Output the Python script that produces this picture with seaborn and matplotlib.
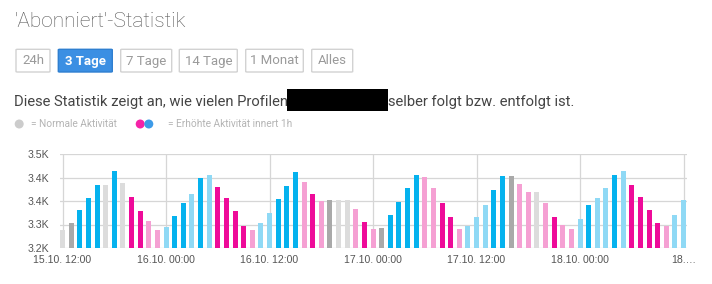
import matplotlib
matplotlib.use("Agg")
import matplotlib.pyplot as plt
import matplotlib.patches as mpatches
import seaborn as sns
import pandas as pd

# ---- data ----
values = [3256, 3279, 3321, 3360, 3401, 3401, 3446, 3407, 3363, 3319, 3285, 3257,
          3266, 3303, 3343, 3373, 3422, 3433, 3395, 3358, 3319, 3269, 3257, 3281,
          3312, 3355, 3399, 3443, 3411, 3373, 3351, 3354, 3354, 3354, 3324, 3282,
          3261, 3263, 3305, 3348, 3392, 3434, 3426, 3390, 3343, 3299, 3261, 3269,
          3299, 3336, 3386, 3430, 3431, 3404, 3379, 3378, 3343, 3299, 3272, 3261,
          3291, 3337, 3359, 3390, 3434, 3446, 3401, 3363, 3322, 3280, 3270, 3305,
          3352]
kinds = ["L", "G", "B", "B", "B", "L", "B", "L", "M", "M", "P", "P",
         "LB", "B", "B", "LB", "B", "LB", "M", "M", "M", "M", "P", "LB",
         "LB", "B", "B", "B", "P", "M", "P", "G", "L", "L", "P", "M",
         "P", "G", "B", "B", "B", "B", "P", "P", "M", "M", "P", "LB",
         "LB", "LB", "B", "B", "G", "P", "P", "L", "P", "M", "P", "P",
         "LB", "B", "LB", "LB", "B", "LB", "M", "M", "M", "M", "P", "LB",
         "LB"]
hours = list(range(len(values)))
xtick_pos = [0, 12, 24, 36, 48, 60, 72]
xtick_labels = ["15.10. 12:00", "16.10. 00:00", "16.10. 12:00", "17.10. 00:00",
                "17.10. 12:00", "18.10. 00:00", "18.\u2026"]
ytick_vals = [3200, 3275, 3350, 3425, 3500]
ytick_labels = ["3.2K", "3.3K", "3.4K", "3.4K", "3.5K"]
buttons = ["24h", "3 Tage", "7 Tage", "14 Tage", "1 Monat", "Alles"]

palette = {"B": "#05b2ee", "LB": "#8fd9f5", "M": "#ee0b99", "P": "#f5a0d3",
           "G": "#a9a9a9", "L": "#dcdcdc"}

df = pd.DataFrame({"hour": hours, "value": values, "kind": kinds})

W, H = 712, 284
fig = plt.figure(figsize=(W / 100, H / 100), dpi=100)
fig.patch.set_facecolor("white")

def fx(px):
    return px / W

def fy(py):
    return 1 - py / H

UI = ["Roboto", "DejaVu Sans"]

# ---- chart ----
ax = fig.add_axes([fx(60), fy(248), fx(687) - fx(60), fy(154) - fy(248)])
sns.barplot(data=df, x="hour", y="value", hue="kind", palette=palette,
            dodge=False, width=0.58, saturation=1, legend=False, ax=ax, zorder=3)
ax.set_xlim(-0.29, 72.4)
ax.set_ylim(3200, 3500)
ax.set_yticks(ytick_vals)
ax.set_yticklabels(ytick_labels)
ax.set_xticks(xtick_pos)
ax.set_xticklabels(xtick_labels)
ax.set_xlabel("")
ax.set_ylabel("")
for s in ax.spines.values():
    s.set_visible(False)
ax.grid(True, axis="both", color="#d6d6d6", linewidth=0.9, zorder=0)
ax.set_axisbelow(True)
ax.tick_params(axis="both", length=0, labelsize=7.6, labelcolor="#555555")
ax.tick_params(axis="y", pad=8)
ax.tick_params(axis="x", pad=5)
for lbl in ax.get_xticklabels() + ax.get_yticklabels():
    lbl.set_family(["Liberation Sans", "DejaVu Sans"])

# ---- title ----
fig.text(fx(15), fy(26.7), "'Abonniert'-Statistik", family=UI, fontsize=15,
         color="#555555", fontweight="light", va="baseline", ha="left")

# ---- buttons ----
btn_x = [(16, 50), (58.3, 112.3), (120.7, 171.7), (179.3, 237.3), (245.7, 303.3), (311.7, 352.7)]
for (x0, x1), lab in zip(btn_x, buttons):
    sel = lab == "3 Tage"
    rect = mpatches.FancyBboxPatch((fx(x0), fy(72)), fx(x1) - fx(x0), fy(49.3) - fy(72),
                                   boxstyle="round,pad=0,rounding_size=0.002",
                                   transform=fig.transFigure,
                                   facecolor="#3b8fe3" if sel else "white",
                                   edgecolor="#2f7fd0" if sel else "#d2d2d2",
                                   linewidth=1.0)
    fig.add_artist(rect)
    fig.text(fx((x0 + x1) / 2), fy(61), lab, family=UI, fontsize=9.5,
             color="white" if sel else "#9a9a9a",
             fontweight="bold" if sel else "normal", ha="center", va="center")

# ---- description ----
fig.text(fx(14), fy(106), "Diese Statistik zeigt an, wie vielen Profilen", family=UI,
         fontsize=10.6, color="#444444", ha="left", va="baseline")
fig.add_artist(mpatches.Rectangle((fx(287), fy(111)), fx(388) - fx(287), fy(89) - fy(111),
                                  transform=fig.transFigure, facecolor="black",
                                  edgecolor="none"))
fig.text(fx(388.5), fy(106), "selber folgt bzw. entfolgt ist.", family=UI,
         fontsize=10.6, color="#444444", ha="left", va="baseline")

# ---- legend ----
r = 0.045
for cx, col in [(19.2, "#cccccc"), (140.2, "#f523a8"), (148.8, "#3d9be8")]:
    fig.add_artist(mpatches.Circle((cx / 100, (H - 124) / 100), r,
                                   transform=fig.dpi_scale_trans,
                                   facecolor=col, edgecolor="none"))
fig.text(fx(31.5), fy(124), "= Normale Aktivit\u00e4t", family=UI, fontsize=7.3,
         color="#b4b4b4", ha="left", va="center")
fig.text(fx(168.5), fy(124), "= Erh\u00f6hte Aktivit\u00e4t innert 1h", family=UI,
         fontsize=7.3, color="#b4b4b4", ha="left", va="center")

fig.savefig("out.png", dpi=100, facecolor="white")
